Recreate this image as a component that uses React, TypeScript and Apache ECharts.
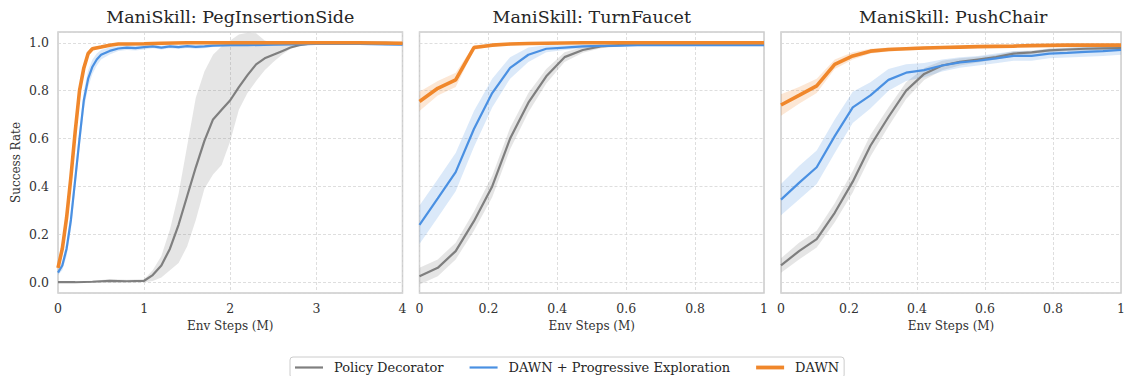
import React, { useEffect, useRef } from 'react';
import * as echarts from 'echarts';

const FONT = "'DejaVu Serif', serif";
const SERIES_NAMES = ['Policy Decorator', 'DAWN + Progressive Exploration', 'DAWN'];
const COLORS = ['#7f7f7f', '#4a90e2', '#f0872b'];
const BAND_COLORS = ['rgba(127,127,127,0.2)', 'rgba(74,144,226,0.2)', 'rgba(240,135,43,0.2)'];
const LINE_WIDTHS = [2.2, 2.2, 3.6];
const LEGEND_ICONS = ['path://M0,0H28V2.2H0Z', 'path://M0,0H28V2.2H0Z', 'path://M0,0H28V3.8H0Z'];
const TITLES = ['ManiSkill: PegInsertionSide', 'ManiSkill: TurnFaucet', 'ManiSkill: PushChair'];
const X_MAX = [4, 1, 1];
const X_INTERVAL = [1, 0.2, 0.2];

// ---- Panel 1: PegInsertionSide (Env Steps in M, 0..4) ----
const pegPdX = [0, 0.2, 0.4, 0.6, 0.8, 1.0, 1.1, 1.2, 1.3, 1.4, 1.5, 1.6, 1.7, 1.8, 1.9, 2.0, 2.1, 2.2, 2.3, 2.4, 2.5, 2.6, 2.7, 2.8, 2.9, 3.0, 3.2, 3.4, 3.6, 3.8, 4.0];
const pegPdMean = [0, 0, 0.002, 0.006, 0.004, 0.006, 0.03, 0.07, 0.14, 0.24, 0.36, 0.48, 0.59, 0.68, 0.72, 0.76, 0.815, 0.865, 0.91, 0.935, 0.95, 0.965, 0.98, 0.99, 0.995, 0.998, 1.0, 1.0, 1.0, 1.0, 0.998];
const pegPdLo = [0, 0, 0, 0, 0, 0, 0.005, 0.02, 0.05, 0.08, 0.15, 0.26, 0.39, 0.45, 0.49, 0.59, 0.72, 0.79, 0.84, 0.885, 0.92, 0.95, 0.975, 0.985, 0.99, 0.993, 0.995, 0.995, 0.995, 0.99, 0.99];
const pegPdHi = [0.003, 0.004, 0.006, 0.012, 0.01, 0.012, 0.05, 0.11, 0.22, 0.37, 0.57, 0.77, 0.88, 0.95, 0.985, 1.01, 1.035, 1.042, 1.04, 1.01, 1.0, 1.0, 1.0, 1.0, 1.0, 1.0, 1.003, 1.003, 1.003, 1.005, 1.003];

const pegBlueX = [0, 0.05, 0.1, 0.15, 0.2, 0.25, 0.3, 0.35, 0.4, 0.45, 0.5, 0.6, 0.7, 0.8, 0.9, 1.0, 1.1, 1.2, 1.3, 1.4, 1.5, 1.6, 1.7, 1.8, 2.0, 2.2, 2.5, 3.0, 3.5, 4.0];
const pegBlueMean = [0.04, 0.07, 0.14, 0.26, 0.43, 0.6, 0.76, 0.85, 0.9, 0.93, 0.95, 0.966, 0.976, 0.98, 0.978, 0.982, 0.985, 0.98, 0.985, 0.982, 0.986, 0.983, 0.985, 0.988, 0.99, 0.99, 0.992, 0.995, 0.995, 0.992];
const pegBlueSd = [0.01, 0.02, 0.03, 0.04, 0.04, 0.04, 0.04, 0.035, 0.03, 0.025, 0.02, 0.015, 0.01, 0.01, 0.01, 0.01, 0.008, 0.008, 0.008, 0.008, 0.008, 0.008, 0.008, 0.006, 0.006, 0.005, 0.005, 0.004, 0.004, 0.004];

const pegOrangeX = [0, 0.05, 0.1, 0.15, 0.2, 0.25, 0.3, 0.35, 0.4, 0.5, 0.6, 0.7, 0.8, 1.0, 1.2, 1.5, 2.0, 2.5, 3.0, 3.5, 4.0];
const pegOrangeMean = [0.06, 0.14, 0.27, 0.44, 0.63, 0.8, 0.895, 0.955, 0.975, 0.982, 0.99, 0.995, 0.995, 0.996, 0.998, 1.0, 1.0, 1.0, 1.0, 1.0, 0.998];
const pegOrangeSd = [0.01, 0.02, 0.02, 0.02, 0.02, 0.02, 0.015, 0.01, 0.008, 0.006, 0.005, 0.004, 0.004, 0.004, 0.003, 0.003, 0.003, 0.003, 0.003, 0.003, 0.003];

// ---- Panels 2 and 3: TurnFaucet / PushChair (Env Steps in M, 0..1) ----
const stepsX = [0, 0.053, 0.105, 0.158, 0.211, 0.263, 0.316, 0.368, 0.421, 0.474, 0.526, 0.579, 0.632, 0.684, 0.737, 0.789, 0.842, 0.895, 0.947, 1.0];

const faucetPdMean = [0.025, 0.06, 0.13, 0.255, 0.4, 0.6, 0.75, 0.86, 0.94, 0.97, 0.985, 0.99, 0.993, 0.995, 0.997, 0.998, 1, 1, 1, 1];
const faucetPdSd = [0.035, 0.035, 0.035, 0.04, 0.045, 0.045, 0.04, 0.03, 0.02, 0.012, 0.008, 0.006, 0.005, 0.004, 0.003, 0.003, 0.002, 0.002, 0.002, 0.002];
const faucetBlueMean = [0.24, 0.35, 0.46, 0.64, 0.79, 0.895, 0.95, 0.975, 0.98, 0.985, 0.987, 0.988, 0.99, 0.99, 0.99, 0.99, 0.99, 0.99, 0.99, 0.99];
const faucetBlueSd = [0.08, 0.08, 0.08, 0.075, 0.06, 0.045, 0.03, 0.015, 0.01, 0.008, 0.006, 0.005, 0.005, 0.004, 0.004, 0.004, 0.004, 0.004, 0.004, 0.004];
const faucetOrangeMean = [0.755, 0.81, 0.845, 0.98, 0.99, 0.995, 0.997, 0.998, 0.999, 1, 1, 1, 1, 1, 1, 1, 1, 1, 1, 1];
const faucetOrangeSd = [0.04, 0.03, 0.03, 0.01, 0.006, 0.004, 0.003, 0.002, 0.002, 0.002, 0.002, 0.002, 0.002, 0.002, 0.002, 0.002, 0.002, 0.002, 0.002, 0.002];

const chairPdMean = [0.07, 0.13, 0.18, 0.29, 0.42, 0.57, 0.69, 0.8, 0.87, 0.905, 0.92, 0.93, 0.94, 0.955, 0.96, 0.968, 0.972, 0.975, 0.977, 0.978];
const chairPdSd = [0.03, 0.035, 0.035, 0.04, 0.045, 0.045, 0.04, 0.035, 0.025, 0.02, 0.015, 0.012, 0.01, 0.01, 0.008, 0.008, 0.008, 0.008, 0.008, 0.008];
const chairBlueMean = [0.345, 0.415, 0.48, 0.61, 0.73, 0.78, 0.845, 0.875, 0.886, 0.905, 0.918, 0.925, 0.935, 0.945, 0.945, 0.955, 0.958, 0.962, 0.965, 0.97];
const chairBlueSd = [0.065, 0.07, 0.07, 0.07, 0.065, 0.055, 0.045, 0.035, 0.03, 0.025, 0.022, 0.02, 0.02, 0.02, 0.02, 0.02, 0.02, 0.02, 0.02, 0.02];
const chairOrangeMean = [0.74, 0.78, 0.82, 0.91, 0.945, 0.965, 0.972, 0.975, 0.978, 0.98, 0.982, 0.984, 0.985, 0.986, 0.988, 0.989, 0.99, 0.99, 0.99, 0.99];
const chairOrangeSd = [0.045, 0.035, 0.03, 0.02, 0.015, 0.01, 0.008, 0.007, 0.007, 0.006, 0.006, 0.006, 0.005, 0.005, 0.005, 0.005, 0.005, 0.005, 0.005, 0.005];

type Curve = { x: number[]; mean: number[]; lo: number[]; hi: number[] };
const symCurve = (x: number[], mean: number[], sd: number[]): Curve => ({
  x,
  mean,
  lo: mean.map((m, i) => m - sd[i]),
  hi: mean.map((m, i) => m + sd[i]),
});

// per panel: [Policy Decorator, DAWN + PE, DAWN]
const PANELS: Curve[][] = [
  [
    { x: pegPdX, mean: pegPdMean, lo: pegPdLo, hi: pegPdHi },
    symCurve(pegBlueX, pegBlueMean, pegBlueSd),
    symCurve(pegOrangeX, pegOrangeMean, pegOrangeSd),
  ],
  [
    symCurve(stepsX, faucetPdMean, faucetPdSd),
    symCurve(stepsX, faucetBlueMean, faucetBlueSd),
    symCurve(stepsX, faucetOrangeMean, faucetOrangeSd),
  ],
  [
    symCurve(stepsX, chairPdMean, chairPdSd),
    symCurve(stepsX, chairBlueMean, chairBlueSd),
    symCurve(stepsX, chairOrangeMean, chairOrangeSd),
  ],
];

const GRID_LEFT = [58, 419.5, 781];
const GRID_WIDTH = 344.5;
const GRID_TOP = 32;
const GRID_HEIGHT = 261;

export default function App() {
  const ref = useRef<HTMLDivElement>(null);
  useEffect(() => {
    if (!ref.current) return;
    const chart = echarts.init(ref.current, undefined, { renderer: 'svg' });

    const grids = GRID_LEFT.map((l) => ({
      left: l,
      top: GRID_TOP,
      width: GRID_WIDTH,
      height: GRID_HEIGHT,
      show: true,
      borderColor: '#cccccc',
      borderWidth: 1.5,
      backgroundColor: 'transparent',
    }));

    const splitLine = { show: true, lineStyle: { color: '#d6d6d6', type: [3, 2] as any, width: 0.8 } };

    const xAxes = GRID_LEFT.map((_, i) => ({
      type: 'value',
      gridIndex: i,
      min: 0,
      max: X_MAX[i],
      interval: X_INTERVAL[i],
      axisLine: { show: false },
      axisTick: { show: false },
      splitLine,
      axisLabel: { fontFamily: FONT, fontSize: 12.5, color: '#333', margin: 9 },
      name: 'Env Steps (M)',
      nameLocation: 'middle',
      nameGap: 26,
      nameTextStyle: { fontFamily: FONT, fontSize: 12, color: '#333', verticalAlign: 'top' },
    }));

    const yAxes = GRID_LEFT.map((_, i) => ({
      type: 'value',
      gridIndex: i,
      min: -0.045,
      max: 1.045,
      splitNumber: 5,
      axisLine: { show: false },
      axisTick: { show: false },
      splitLine,
      axisLabel: {
        show: i === 0,
        fontFamily: FONT,
        fontSize: 12.5,
        color: '#333',
        margin: 9,
        showMinLabel: false,
        showMaxLabel: false,
        formatter: (v: number) => v.toFixed(1),
      },
      name: i === 0 ? 'Success Rate' : '',
      nameLocation: 'middle',
      nameGap: 36,
      nameRotate: 90,
      nameTextStyle: { fontFamily: FONT, fontSize: 12, color: '#333' },
    }));

    const series: any[] = [];
    PANELS.forEach((curves, gi) => {
      curves.forEach((c, si) => {
        series.push({
          type: 'custom',
          name: 'band-' + gi + '-' + si,
          xAxisIndex: gi,
          yAxisIndex: gi,
          silent: true,
          z: 1 + si,
          data: [[c.x[0], c.mean[0]]],
          encode: { x: 0, y: 1 },
          renderItem: (_params: any, api: any) => {
            const pts: number[][] = [];
            for (let k = 0; k < c.x.length; k++) pts.push(api.coord([c.x[k], c.hi[k]]));
            for (let k = c.x.length - 1; k >= 0; k--) pts.push(api.coord([c.x[k], c.lo[k]]));
            return { type: 'polygon', shape: { points: pts }, style: { fill: BAND_COLORS[si] } };
          },
        });
      });
      curves.forEach((c, si) => {
        series.push({
          type: 'line',
          name: SERIES_NAMES[si],
          xAxisIndex: gi,
          yAxisIndex: gi,
          data: c.x.map((x, k) => [x, c.mean[k]]),
          showSymbol: false,
          symbol: 'none',
          z: 10 + si,
          lineStyle: { color: COLORS[si], width: LINE_WIDTHS[si] },
          itemStyle: { color: COLORS[si] },
        });
      });
    });

    const graphic = TITLES.map((t, i) => ({
      type: 'text',
      x: GRID_LEFT[i] + GRID_WIDTH / 2,
      y: 17,
      silent: true,
      style: {
        text: t,
        font: 'normal 17.5px ' + FONT,
        fill: '#262626',
        textAlign: 'center',
        textVerticalAlign: 'middle',
      },
    }));

    chart.setOption({
      animation: false,
      backgroundColor: '#ffffff',
      grid: grids,
      xAxis: xAxes,
      yAxis: yAxes,
      series,
      graphic,
      legend: {
        data: SERIES_NAMES.map((n, i) => ({
          name: n,
          icon: LEGEND_ICONS[i],
          itemStyle: { color: COLORS[i] },
        })),
        left: 290,
        top: 357,
        orient: 'horizontal',
        padding: [4, 5, 4, 5],
        itemWidth: 28,
        itemHeight: 14,
        itemGap: 26,
        borderColor: '#cccccc',
        borderWidth: 1,
        borderRadius: 3,
        backgroundColor: '#ffffff',
        textStyle: { fontFamily: FONT, fontSize: 13, color: '#262626', padding: [0, 0, 0, 6] },
      },
    });

    return () => chart.dispose();
  }, []);

  return (
    <div
      ref={ref}
      style={{ position: 'fixed', left: 0, top: 0, width: 1128, height: 376, background: '#fff' }}
    />
  );
}
